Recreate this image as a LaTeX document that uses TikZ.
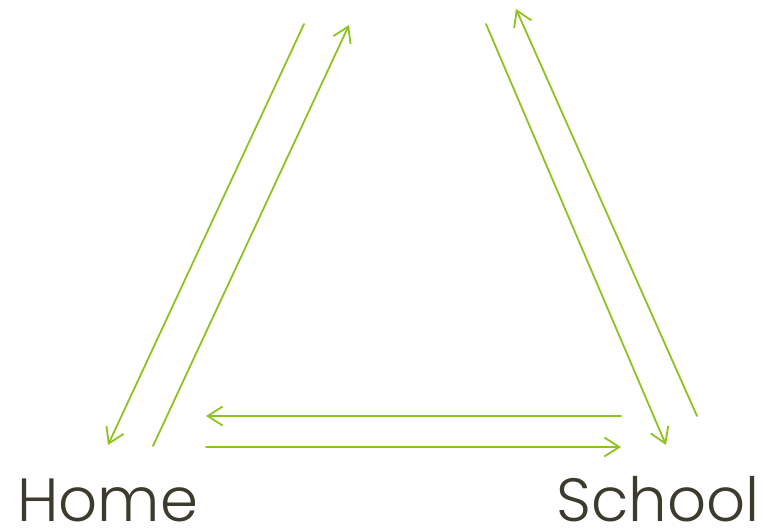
\documentclass[tikz,border=0pt]{standalone}
\usepackage{fontspec}
\setmainfont{Poppins}[UprightFont=* Light]
\usepackage{tikz}
\usetikzlibrary{arrows.meta}
\definecolor{leaf}{HTML}{8DC21F}
\definecolor{ink}{HTML}{3C3B2D}

\begin{document}
\begin{tikzpicture}[x=1pt, y=-1pt,
  place/.style={font=\fontsize{61}{61}\selectfont, text=ink, inner sep=0pt},
  arr/.style={draw=leaf, line width=1.8pt, line cap=round, -{Straight Barb[length=15pt, width=19pt, line width=1.8pt]}}
]
\useasboundingbox (0,0) rectangle (765,529);
\node[place, anchor=base west] (home) at (17,521) {Home};
\node[place, anchor=base east] (school) at (760,521) {School};
% left side
\coordinate (lA) at (304,24);  \coordinate (lB) at (108,445);
\coordinate (lC) at (153,446); \coordinate (lD) at (349,25);
% right side
\coordinate (rA) at (486,24);  \coordinate (rB) at (666,445);
\coordinate (rC) at (697,416); \coordinate (rD) at (516,9);
% bottom
\coordinate (bA) at (621,416); \coordinate (bB) at (206,416);
\coordinate (bC) at (206,447); \coordinate (bD) at (621,447);
\draw[arr] (lA) -- (lB);
\draw[arr] (lC) -- (lD);
\draw[arr] (rA) -- (rB);
\draw[arr] (rC) -- (rD);
\draw[arr] (bA) -- (bB);
\draw[arr] (bC) -- (bD);
\end{tikzpicture}
\end{document}
